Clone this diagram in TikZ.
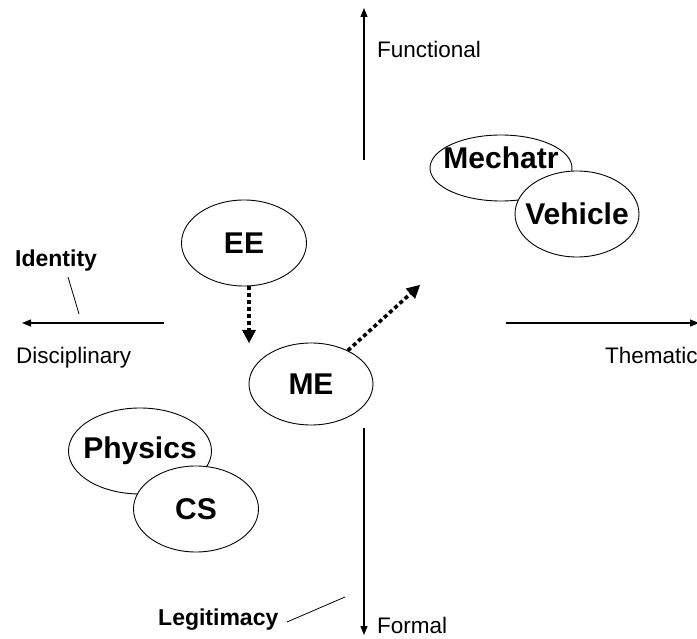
\documentclass[tikz,border=0pt]{standalone}
\usepackage{fontspec}
\setmainfont{Liberation Sans}
\usetikzlibrary{shapes.geometric,arrows.meta}
\begin{document}
\begin{tikzpicture}[x=1pt,y=-1pt,
  blob/.style={draw,ellipse,line width=0.9pt,fill=white,inner sep=0pt},
  blobtext/.style={inner sep=0pt,font=\fontsize{30}{32}\selectfont\bfseries},
  axis/.style={line width=1.2pt,-{Triangle[length=9pt,width=7pt]}},
  dotarrow/.style={line width=3.6pt,dash pattern=on 4pt off 3pt,-{Triangle[length=13pt,width=14pt,line width=0pt]}},
  plainlabel/.style={inner sep=0pt,anchor=base west,font=\fontsize{22.5}{24}\selectfont},
  boldlabel/.style={inner sep=0pt,anchor=base west,font=\fontsize{23}{25}\selectfont\bfseries},
  leader/.style={line width=0.8pt}]
\useasboundingbox (0,0) rectangle (697,639);
% axes
\coordinate (vtopA) at (364,160);
\coordinate (vtopB) at (364,8);
\coordinate (vbotA) at (364,428);
\coordinate (vbotB) at (364,635);
\coordinate (hleftA) at (164,323);
\coordinate (hleftB) at (22,323);
\coordinate (hrightA) at (506,323);
\coordinate (hrightB) at (699,323);
\draw[axis] (vtopA) -- (vtopB);
\draw[axis] (vbotA) -- (vbotB);
\draw[axis] (hleftA) -- (hleftB);
\draw[axis] (hrightA) -- (hrightB);
% axis labels
\node[plainlabel] (functional) at (377,58) {Functional};
\node[plainlabel] (disciplinary) at (16,363) {Disciplinary};
\node[plainlabel] (thematic) at (605,363) {Thematic};
\node[plainlabel] (formal) at (377,633) {Formal};
\node[boldlabel] (identity) at (15,267) {Identity};
\node[boldlabel] (legitimacy) at (158,625) {Legitimacy};
% leader lines
\coordinate (idA) at (68,277);
\coordinate (idB) at (79,314);
\draw[leader] (idA) -- (idB);
\coordinate (lgA) at (287,622);
\coordinate (lgB) at (345,597);
\draw[leader] (lgA) -- (lgB);
% ellipses
\node[blob,minimum width=125pt,minimum height=86pt,label={[blobtext]center:EE}] (EE) at (244,243) {};
\node[blob,minimum width=124pt,minimum height=82pt,label={[blobtext]center:ME}] (ME) at (311,384) {};
\node[blob,minimum width=142pt,minimum height=66pt,label={[blobtext,yshift=10pt]center:Mechatr}] (Mech) at (501,168) {};
\node[blob,minimum width=124pt,minimum height=86pt,label={[blobtext]center:Vehicle}] (Veh) at (577,214) {};
\node[blob,minimum width=143pt,minimum height=86pt,label={[blobtext]center:Physics}] (Phys) at (140,451) {};
\node[blob,minimum width=125pt,minimum height=86pt,label={[blobtext]center:CS}] (CS) at (196,509) {};
% dotted arrows
\coordinate (eetip) at (249,343);
\coordinate (metip) at (420,285);
\draw[dotarrow] (EE.south -| eetip) -- (eetip);
\draw[dotarrow] (ME) -- (metip);
\end{tikzpicture}
\end{document}
